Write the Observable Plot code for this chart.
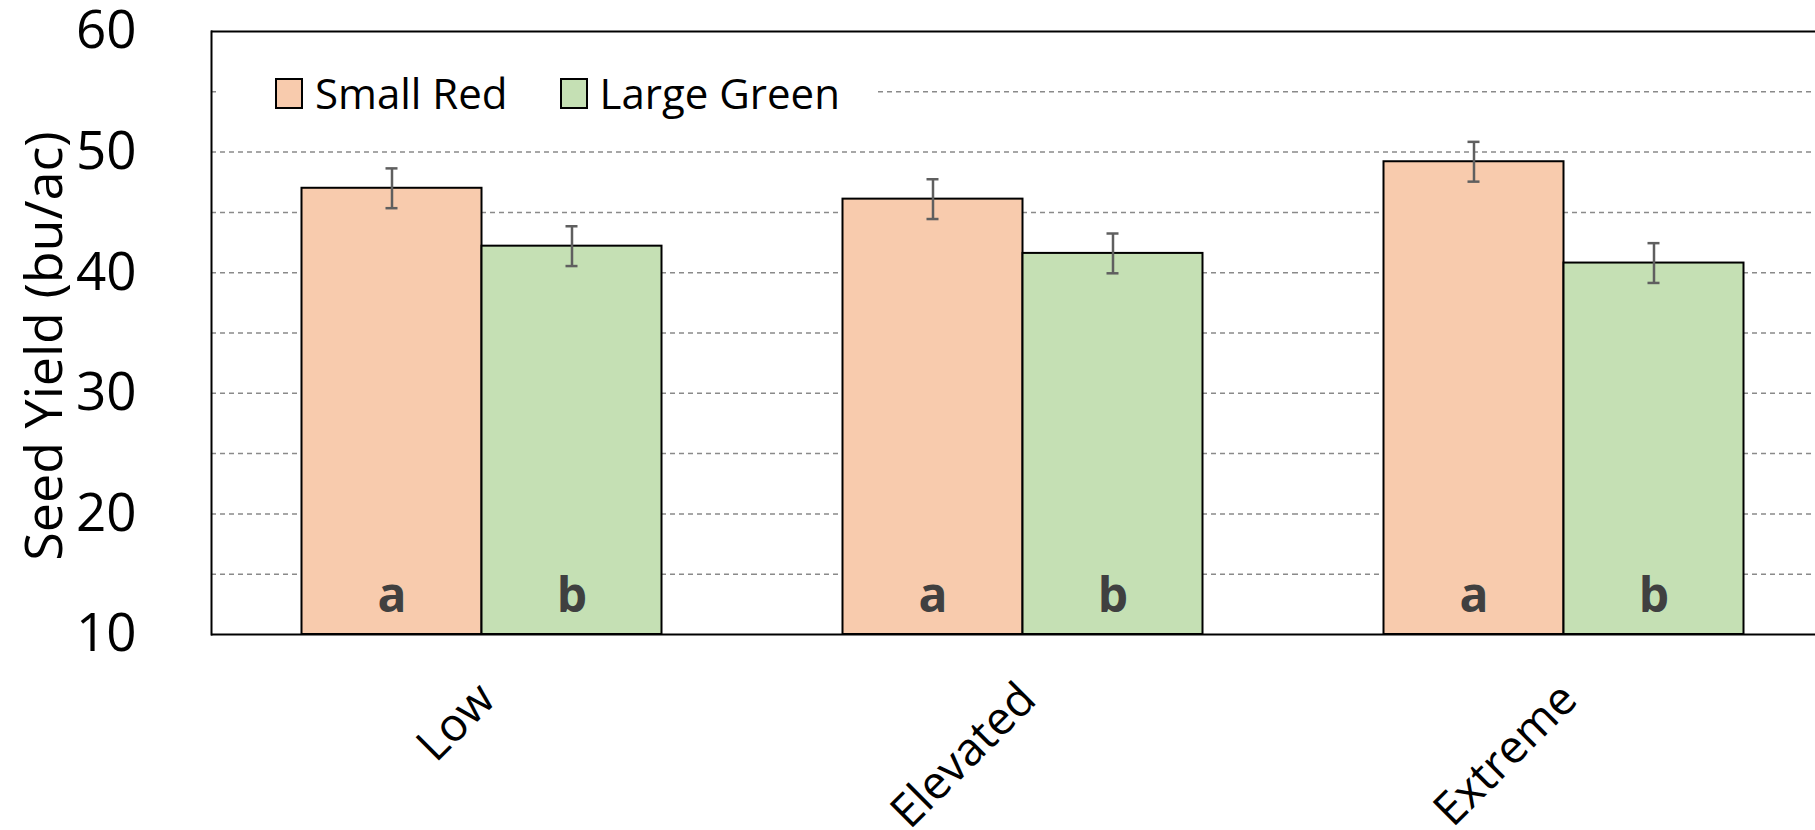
<!DOCTYPE html>
<html>
<head>
<meta charset="utf-8">
<script src="https://cdn.jsdelivr.net/npm/d3@7"></script>
<script src="https://cdn.jsdelivr.net/npm/@observablehq/plot@0.6"></script>
<style>
  html, body { margin: 0; padding: 0; background: white; overflow: hidden; }
  #chart { position: relative; width: 1815px; height: 830px; font-family: "Open Sans", sans-serif; }
  #legend {
    position: absolute; left: 218px; top: 64px; width: 656px; height: 58px;
    background: white; display: flex; align-items: center; padding-left: 57px; box-sizing: border-box;
  }
  #legend .item { display: flex; align-items: center; margin-right: 52px; white-space: nowrap; }
  #legend .swatch { width: 28px; height: 31px; box-sizing: border-box; border: 2px solid black; margin-right: 12px; flex: none; }
  #legend .label { font-size: 42px; line-height: 1; color: black; white-space: nowrap; }
</style>
</head>
<body>
<div id="chart"></div>
<script>
// Seed yield by stress level for two market classes
const categories = ["Low", "Elevated", "Extreme"];
const seriesNames = ["Small Red", "Large Green"];
const smallRed = [47.0, 46.1, 49.2];
const largeGreen = [42.2, 41.6, 40.8];
const smallRedErr = [1.65, 1.65, 1.65];
const largeGreenErr = [1.65, 1.65, 1.65];
const smallRedLetters = ["a", "a", "a"];
const largeGreenLetters = ["b", "b", "b"];
const seriesColors = ["#F8CBAD", "#C5E0B4"];
const yDomain = [10, 60];
const yTicks = [10, 20, 30, 40, 50, 60];
const gridTicks = [15, 20, 25, 30, 35, 40, 45, 50, 55];
const yLabel = "Seed Yield (bu/ac)";

const rows = [];
categories.forEach((c, i) => {
  rows.push({category: c, series: seriesNames[0], value: smallRed[i], err: smallRedErr[i], letter: smallRedLetters[i]});
  rows.push({category: c, series: seriesNames[1], value: largeGreen[i], err: largeGreenErr[i], letter: largeGreenLetters[i]});
});

const base = yDomain[0];

const chart = Plot.plot({
  width: 1815,
  height: 830,
  marginTop: 31,
  marginBottom: 196,
  marginLeft: 209.5,
  marginRight: -19.6,
  style: {fontFamily: "'Open Sans', sans-serif", fontSize: "42px", color: "black", background: "white"},
  fx: {domain: categories, paddingInner: 0, paddingOuter: 0, label: null},
  x: {domain: seriesNames, paddingInner: 0, paddingOuter: 0.5, axis: null},
  y: {domain: yDomain},
  color: {domain: seriesNames, range: seriesColors},
  marks: [
    Plot.gridY(gridTicks, {stroke: "#8a8a8a", strokeOpacity: 1, strokeWidth: 1.5, strokeDasharray: "5,4"}),
    Plot.barY(rows, {fx: "category", x: "series", y1: () => base, y2: "value", fill: "series", stroke: "black", strokeWidth: 2}),
    Plot.ruleX(rows, {fx: "category", x: "series", y1: d => d.value - d.err, y2: d => d.value + d.err, stroke: "#5f5f5f", strokeWidth: 2.5}),
    Plot.tickY(rows, {fx: "category", x: "series", y: d => d.value - d.err, stroke: "#5f5f5f", strokeWidth: 2.5, insetLeft: 84, insetRight: 84}),
    Plot.tickY(rows, {fx: "category", x: "series", y: d => d.value + d.err, stroke: "#5f5f5f", strokeWidth: 2.5, insetLeft: 84, insetRight: 84}),
    Plot.text(rows, {fx: "category", x: "series", y: () => base, text: "letter", lineAnchor: "bottom", dy: -23, fontWeight: "bold", fontSize: 48, fill: "#404040"}),
    Plot.ruleY([yDomain[0], yDomain[1]], {stroke: "black", strokeWidth: 2}),
    Plot.frame({anchor: "left", facet: "super", stroke: "black", strokeWidth: 2}),
    Plot.axisY({ticks: yTicks, tickSize: 0, tickPadding: 75, fontSize: 53, label: null}),
    Plot.text([yLabel], {facet: "super", frameAnchor: "left", textAnchor: "middle", rotate: -90, dx: -166, dy: 13, fontSize: 52, fill: "black"}),
    Plot.axisFx({anchor: "bottom", tickRotate: -45, tickSize: 0, tickPadding: 57, dx: 5, fontSize: 46, label: null})
  ]
});

const container = document.getElementById("chart");
container.appendChild(chart);

// Legend drawn in the upper-left of the plotting area
const legend = d3.select(container).append("div").attr("id", "legend");
const items = legend.selectAll(".item").data(seriesNames).join("div").attr("class", "item");
items.append("div").attr("class", "swatch").style("background", (d, i) => seriesColors[i]);
items.append("div").attr("class", "label").text(d => d);
</script>
</body>
</html>
